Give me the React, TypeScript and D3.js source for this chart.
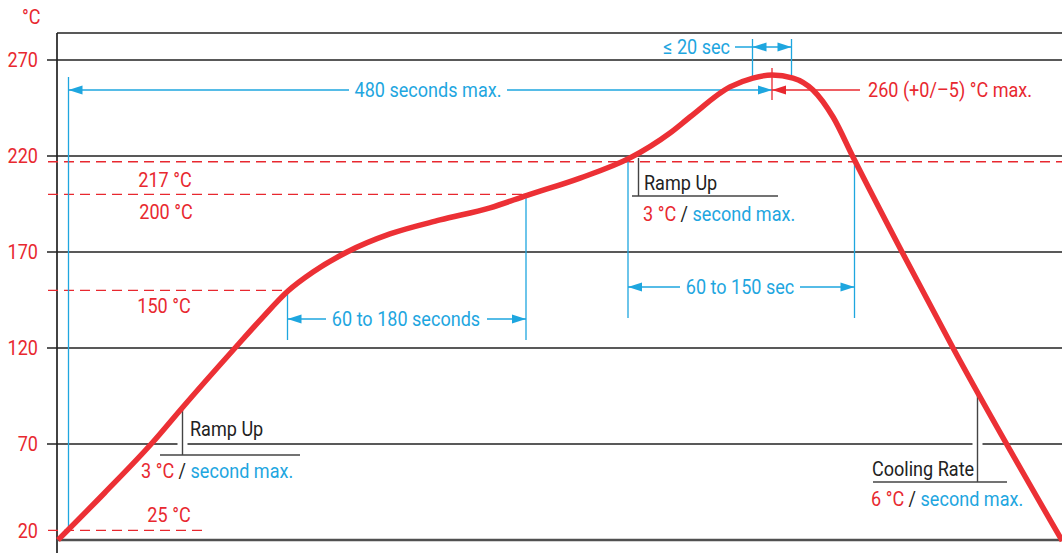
import React from "react";
import * as d3 from "d3";

// ---- data ----
const yTicks = [20, 70, 120, 170, 220, 270];
const profileTime = [0, 31, 62.7, 83.3, 118, 136, 153.3, 170, 192.7, 221.3, 254.7, 288, 312.7, 348, 381.3, 408, 421.3, 448, 463.3, 476, 490, 503.3, 516.7, 530, 562.7, 596.7, 669.5];
const profileTemp = [20, 44.5, 70.5, 89.3, 120, 135.6, 149.7, 159.6, 170, 179.4, 186.7, 193, 199.5, 208.5, 219, 232, 240.3, 256, 260.6, 262.2, 260.6, 254.4, 240.3, 219.5, 170, 120, 19.5];
const refTemps = [217, 200, 150, 25];
const refLabels = ["217 °C", "200 °C", "150 °C", "25 °C"];
const refEndTimes = [670, 312, 153, 100];
const tStart = 7;      // 25 °C point
const t150 = 153;
const t200 = 312;
const tLiqIn = 380;
const tLiqOut = 531;
const tPeakStart = 463;
const tPeak = 476;
const tPeakEnd = 489;
const rampTimes = [83, 387, 613];

const RED = "#e8282f";
const CURVE = "#ec3035";
const BLUE = "#1ea6df";
const DARK = "#222";
const FONT = "Roboto, 'Liberation Sans', sans-serif";
const FS = 21;
const SX = 0.86;

const x = d3.scaleLinear().domain([0, 670]).range([58, 1063]);
const y = d3.scaleLinear().domain([20, 270]).range([540, 60]);

const head = (px: number, py: number, dir: number, col: string) => (
  <path d={`M${px},${py} L${px - dir * 14},${py - 4.5} L${px - dir * 14},${py + 4.5} Z`} fill={col} />
);

const T = ({ x: tx, y: ty, anchor = "start", fill, size = FS, baseline, children }: any) => (
  <text
    transform={`translate(${tx},${ty}) scale(${SX},1)`}
    textAnchor={anchor}
    fontSize={size}
    fill={fill}
    dominantBaseline={baseline}
  >
    {children}
  </text>
);

export default function App() {
  const line = d3
    .line<number>()
    .x((_, i) => x(profileTime[i]))
    .y((d) => y(d))
    .curve(d3.curveMonotoneX);
  const pathD = line(profileTemp) || "";

  const rate = (n: string) => (
    <>
      <tspan fill={RED}>{n} °C</tspan>
      <tspan fill={DARK}> / </tspan>
      <tspan fill={BLUE}>second max.</tspan>
    </>
  );

  return (
    <svg width={1062} height={560} style={{ position: "absolute", left: 0, top: 0, background: "#fff" }} fontFamily={FONT}>
      <rect x={0} y={0} width={1062} height={560} fill="#fff" />
      {/* unit */}
      <T x={22} y={24} fill={RED}>°C</T>

      {/* frame */}
      <line x1={57} x2={1062} y1={33} y2={33} stroke={DARK} strokeWidth={1.5} />
      <line x1={57} x2={57} y1={33} y2={553} stroke={DARK} strokeWidth={1.7} />

      {/* grid + y labels */}
      {yTicks.map((v, i) =>
        i === 0 ? (
          <g key={v}>
            <line x1={57} x2={1062} y1={y(v)} y2={y(v)} stroke="#505050" strokeWidth={2.3} />
            <T x={38} y={y(v) - 9} anchor="end" fill={RED} baseline="central">{v}</T>
          </g>
        ) : (
          <g key={v}>
            <line x1={47} x2={1062} y1={y(v)} y2={y(v)} stroke={DARK} strokeWidth={1.3} />
            <T x={38} y={y(v)} anchor="end" fill={RED} baseline="central">{v}</T>
          </g>
        )
      )}

      {/* gaps in the 70 line around ramp ticks */}
      <rect x={x(rampTimes[0]) - 5} y={y(70) - 2} width={10} height={4} fill="#fff" />
      <rect x={x(rampTimes[2]) - 5} y={y(70) - 2} width={10} height={4} fill="#fff" />

      {/* red dashed reference lines */}
      {refTemps.map((v, i) => (
        <line key={v} x1={48} x2={x(refEndTimes[i])} y1={y(v)} y2={y(v)} stroke={RED} strokeWidth={1.3} strokeDasharray="10,6" />
      ))}
      <T x={165} y={y(217) + 25} anchor="middle" fill={RED}>{refLabels[0]}</T>
      <T x={166} y={y(200) + 25} anchor="middle" fill={RED}>{refLabels[1]}</T>
      <T x={164} y={y(150) + 23} anchor="middle" fill={RED}>{refLabels[2]}</T>
      <T x={169} y={y(25) - 8} anchor="middle" fill={RED}>{refLabels[3]}</T>

      {/* blue vertical markers */}
      <g stroke={BLUE} strokeWidth={1.3}>
        <line x1={x(tStart)} x2={x(tStart)} y1={77} y2={y(25)} />
        <line x1={x(t150)} x2={x(t150)} y1={y(150)} y2={340} />
        <line x1={x(t200)} x2={x(t200)} y1={y(200)} y2={340} />
        <line x1={x(tLiqIn)} x2={x(tLiqIn)} y1={y(218)} y2={318} />
        <line x1={x(tLiqOut)} x2={x(tLiqOut)} y1={y(218)} y2={318} />
        <line x1={x(tPeakStart)} x2={x(tPeakStart)} y1={39} y2={78} />
        <line x1={x(tPeakEnd)} x2={x(tPeakEnd)} y1={39} y2={78} />
        <line x1={x(tStart)} x2={349} y1={90} y2={90} />
        <line x1={507} x2={x(tPeak)} y1={90} y2={90} />
        <line x1={x(t150)} x2={326} y1={319} y2={319} />
        <line x1={487} x2={x(t200)} y1={319} y2={319} />
        <line x1={x(tLiqIn)} x2={680} y1={287} y2={287} />
        <line x1={800} x2={x(tLiqOut)} y1={287} y2={287} />
        <line x1={735} x2={x(tPeakEnd)} y1={47} y2={47} />
      </g>
      {head(x(tStart), 90, -1, BLUE)}
      {head(x(tPeak), 90, 1, BLUE)}
      {head(x(t150), 319, -1, BLUE)}
      {head(x(t200), 319, 1, BLUE)}
      {head(x(tLiqIn), 287, -1, BLUE)}
      {head(x(tLiqOut), 287, 1, BLUE)}
      {head(x(tPeakStart), 47, -1, BLUE)}
      {head(x(tPeakEnd), 47, 1, BLUE)}
      <T x={428} y={97} anchor="middle" fill={BLUE}>480 seconds max.</T>
      <T x={406} y={326} anchor="middle" fill={BLUE}>60 to 180 seconds</T>
      <T x={740} y={294} anchor="middle" fill={BLUE}>60 to 150 sec</T>
      <T x={730} y={54} anchor="end" fill={BLUE}>≤ 20 sec</T>

      {/* peak red marker */}
      <line x1={x(tPeak)} x2={x(tPeak)} y1={68} y2={100} stroke={RED} strokeWidth={1.3} />
      <line x1={x(tPeak)} x2={860} y1={90} y2={90} stroke={RED} strokeWidth={1.4} />
      {head(x(tPeak), 90, -1, RED)}
      <T x={868} y={97} fill={RED}>260 (+0/–5) °C max.</T>

      {/* ramp annotations */}
      <g stroke="#444" strokeWidth={1.4}>
        <line x1={x(rampTimes[0])} x2={x(rampTimes[0])} y1={y(89)} y2={455} />
        <line x1={160} x2={300} y1={455} y2={455} />
        <line x1={x(rampTimes[1])} x2={x(rampTimes[1])} y1={y(219)} y2={196} />
        <line x1={632} x2={778} y1={196} y2={196} />
        <line x1={x(rampTimes[2])} x2={x(rampTimes[2])} y1={395} y2={482} />
        <line x1={873} x2={1007} y1={482} y2={482} />
      </g>
      <T x={190} y={436} fill={DARK}>Ramp Up</T>
      <T x={141} y={478}>{rate("3")}</T>
      <T x={644} y={190} fill={DARK}>Ramp Up</T>
      <T x={643} y={221}>{rate("3")}</T>
      <T x={872} y={476} fill={DARK}>Cooling Rate</T>
      <T x={871} y={506}>{rate("6")}</T>

      {/* profile curve */}
      <path d={pathD} fill="none" stroke={CURVE} strokeWidth={5.5} strokeLinecap="butt" strokeLinejoin="round" />
    </svg>
  );
}
